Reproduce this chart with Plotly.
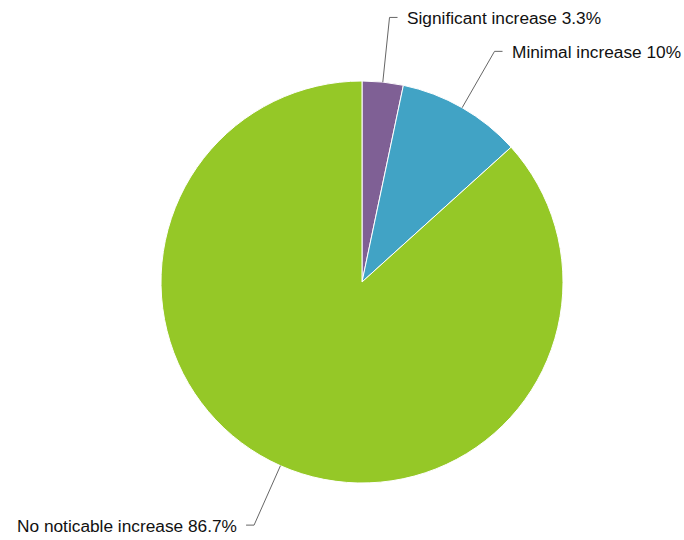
import math
import plotly.graph_objects as go

labels = ["Significant increase", "Minimal increase", "No noticable increase"]
values = [3.3, 10.0, 86.7]
colors = ["#7f6095", "#41a3c5", "#95c827"]

W, H = 684, 540
cx, cy, r = 362, 282, 201
elbow_extra = 65
hseg = 8
gap = 7

fig = go.Figure(go.Pie(
    labels=labels, values=values, sort=False, direction="clockwise", rotation=0,
    marker=dict(colors=colors, line=dict(color="#ffffff", width=1)),
    textinfo="none", hoverinfo="label+percent", showlegend=False,
    domain=dict(x=[(cx - r) / W, (cx + r) / W], y=[(H - cy - r) / H, (H - cy + r) / H]),
))

total = sum(values)
cum = 0.0
shapes, annots = [], []
px = lambda x: x / W
py = lambda y: 1 - y / H
for lab, v in zip(labels, values):
    mid = (cum + v / 2) / total * 2 * math.pi
    cum += v
    sx, sy = math.sin(mid), -math.cos(mid)
    x0, y0 = cx + r * sx, cy + r * sy
    x1, y1 = cx + (r + elbow_extra) * sx, cy + (r + elbow_extra) * sy
    side = 1 if sx >= 0 else -1
    x2 = x1 + side * hseg
    shapes.append(dict(type="path", xref="paper", yref="paper",
                       path=f"M {px(x0)} {py(y0)} L {px(x1)} {py(y1)} L {px(x2)} {py(y1)}",
                       line=dict(color="#666666", width=1)))
    annots.append(dict(x=px(x2 + side * gap), y=py(y1 + 1), xref="paper", yref="paper",
                       text=f"{lab} {v:g}%", showarrow=False,
                       xanchor="left" if side > 0 else "right", yanchor="middle",
                       font=dict(family="Liberation Sans, Arial, sans-serif", size=17.3, color="#111111")))

fig.update_layout(width=W, height=H, margin=dict(l=0, r=0, t=0, b=0),
                  paper_bgcolor="white", plot_bgcolor="white",
                  shapes=shapes, annotations=annots)
fig.write_html("out.html", config={"displayModeBar": False},
               post_script="document.body.style.margin='0px';document.body.style.overflow='hidden';")
